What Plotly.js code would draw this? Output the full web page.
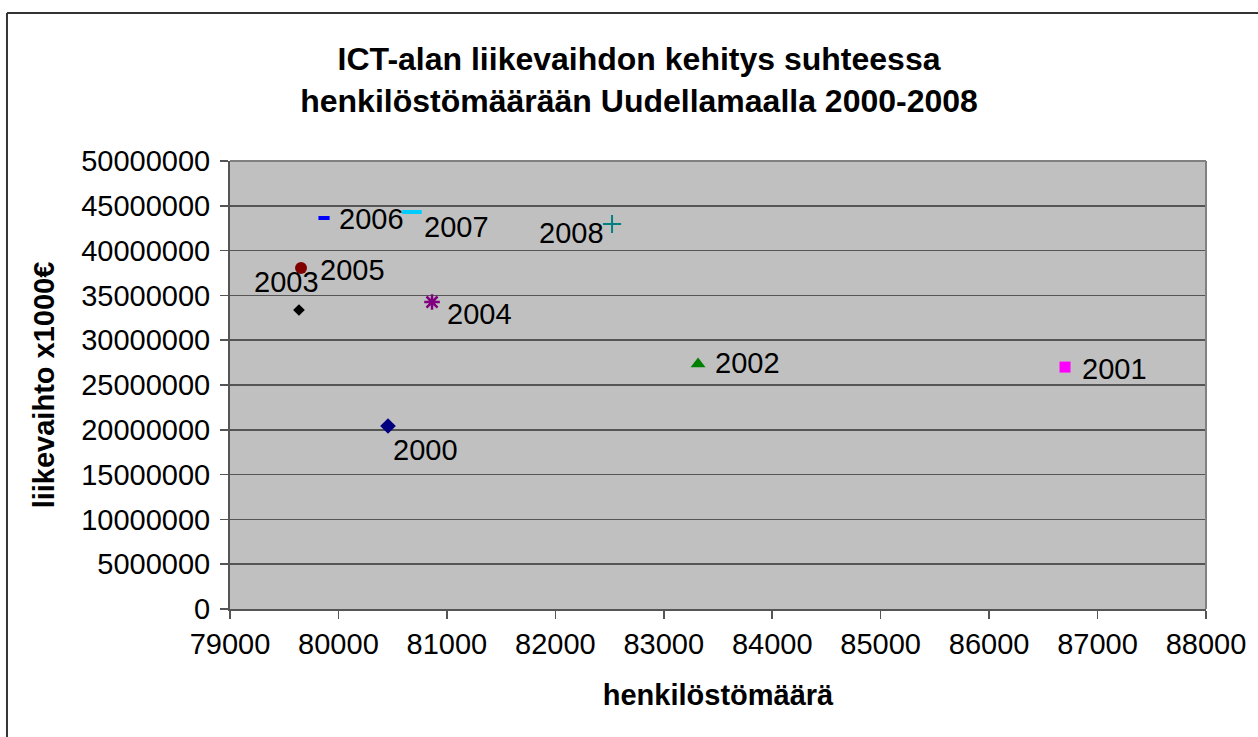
<!DOCTYPE html>
<html>
<head>
<meta charset="utf-8">
<script src="https://cdn.plot.ly/plotly-3.0.1.min.js"></script>
<style>
  body { margin: 0; background: #fff; }
  #chart { width: 1258px; height: 737px; }
</style>
</head>
<body>
<div id="chart"></div>
<script>
// vuodet ja arvot luettu kuvasta
const vuodet = ["2000", "2001", "2002", "2003", "2004", "2005", "2006", "2007", "2008"];
const henkilosto = [80457, 86700, 83316, 79636, 80863, 79655, 79867, 80678, 82523];
const liikevaihto = [20420000, 27000000, 27340000, 33370000, 34260000, 38060000, 43640000, 44310000, 42970000];

const xTicks = [79000, 80000, 81000, 82000, 83000, 84000, 85000, 86000, 87000, 88000];
const yTicks = [0, 5000000, 10000000, 15000000, 20000000, 25000000, 30000000, 35000000, 40000000, 45000000, 50000000];

// merkkien tyylit (Excelin oletussarjat)
const symbolit = ["diamond", "square", "triangle-up", "diamond", "asterisk-open", "circle", "line-ew-open", "line-ew-open", "cross-thin-open"];
const varit = ["#000080", "#FF00FF", "#008000", "#000000", "#800080", "#800000", "#0000FF", "#00CCFF", "#008080"];
const koot = [12, 11, 13, 9, 13, 12, 8, 14, 13];
const viivat = [0, 0, 0, 0, 2.5, 0, 4, 4, 2];
// tekstien siirrot pisteestä (px)
const siirtoX = [37, 49, 49, -12, 47, 51, 47, 45, -41];
const siirtoY = [-24, -2, 1, 28, -12, -2, -1, -15, -9];

const fontti = "Liberation Sans, Arial, sans-serif";

let trace = {
  x: henkilosto,
  y: liikevaihto,
  mode: 'markers',
  type: 'scatter',
  hoverinfo: 'none',
  showlegend: false,
  marker: {
    symbol: symbolit,
    color: varit,
    size: koot,
    opacity: 1,
    line: {color: varit, width: viivat}
  }
};

let merkinnat = vuodet.map(function(v, i) {
  return {
    x: henkilosto[i], y: liikevaihto[i], text: v,
    xref: 'x', yref: 'y', showarrow: false,
    xshift: siirtoX[i], yshift: siirtoY[i],
    font: {family: fontti, size: 29, color: '#000'}
  };
});

let layout = {
  width: 1258,
  height: 737,
  paper_bgcolor: '#ffffff',
  plot_bgcolor: '#C0C0C0',
  margin: {l: 230, r: 52, t: 161, b: 128},
  title: {
    text: '<b>ICT-alan liikevaihdon kehitys suhteessa<br>henkilöstömäärään Uudellamaalla 2000-2008</b>',
    font: {family: fontti, size: 32, color: '#000'},
    x: 0.508, xanchor: 'center', yref: 'container', y: 0.905, yanchor: 'middle'
  },
  xaxis: {
    range: [79000, 88000],
    tickvals: xTicks,
    ticktext: xTicks.map(String),
    ticks: 'outside', ticklen: 8, tickcolor: '#555', tickwidth: 1.5,
    showgrid: false, zeroline: false,
    showline: true, linecolor: '#555', linewidth: 2, mirror: false,
    tickfont: {family: fontti, size: 29, color: '#000'},
    title: {text: '<b>henkilöstömäärä</b>', font: {family: fontti, size: 29, color: '#000'}, standoff: 26},
    fixedrange: true
  },
  yaxis: {
    range: [0, 50000000],
    tickvals: yTicks,
    ticktext: yTicks.map(String),
    ticks: 'outside', ticklen: 8, tickcolor: '#555', tickwidth: 1.5,
    ticklabelstandoff: 4,
    showgrid: true, gridcolor: '#555', gridwidth: 1.5,
    zeroline: false,
    showline: true, linecolor: '#555', linewidth: 2,
    tickfont: {family: fontti, size: 29, color: '#000'},
    title: {text: '<b>liikevaihto x1000€</b>', font: {family: fontti, size: 29, color: '#000'}, standoff: 18},
    fixedrange: true
  },
  annotations: merkinnat,
  shapes: [
    // piirtoalueen reunat oikealla ja ylhäällä
    {type: 'line', xref: 'paper', yref: 'paper', x0: 1, x1: 1, y0: 0, y1: 1, line: {color: '#808080', width: 2}},
    {type: 'line', xref: 'paper', yref: 'paper', x0: 0, x1: 1, y0: 1, y1: 1, line: {color: '#808080', width: 2}},
    // kaavion ulkokehys
    {type: 'line', xref: 'paper', yref: 'paper', x0: -0.2285, x1: -0.2285, y0: -0.5, y1: 1.3304, line: {color: '#333', width: 2}},
    {type: 'line', xref: 'paper', yref: 'paper', x0: -0.2285, x1: 1.06, y0: 1.3304, y1: 1.3304, line: {color: '#333', width: 2}}
  ]
};

Plotly.newPlot('chart', [trace], layout, {staticPlot: true});
</script>
</body>
</html>
